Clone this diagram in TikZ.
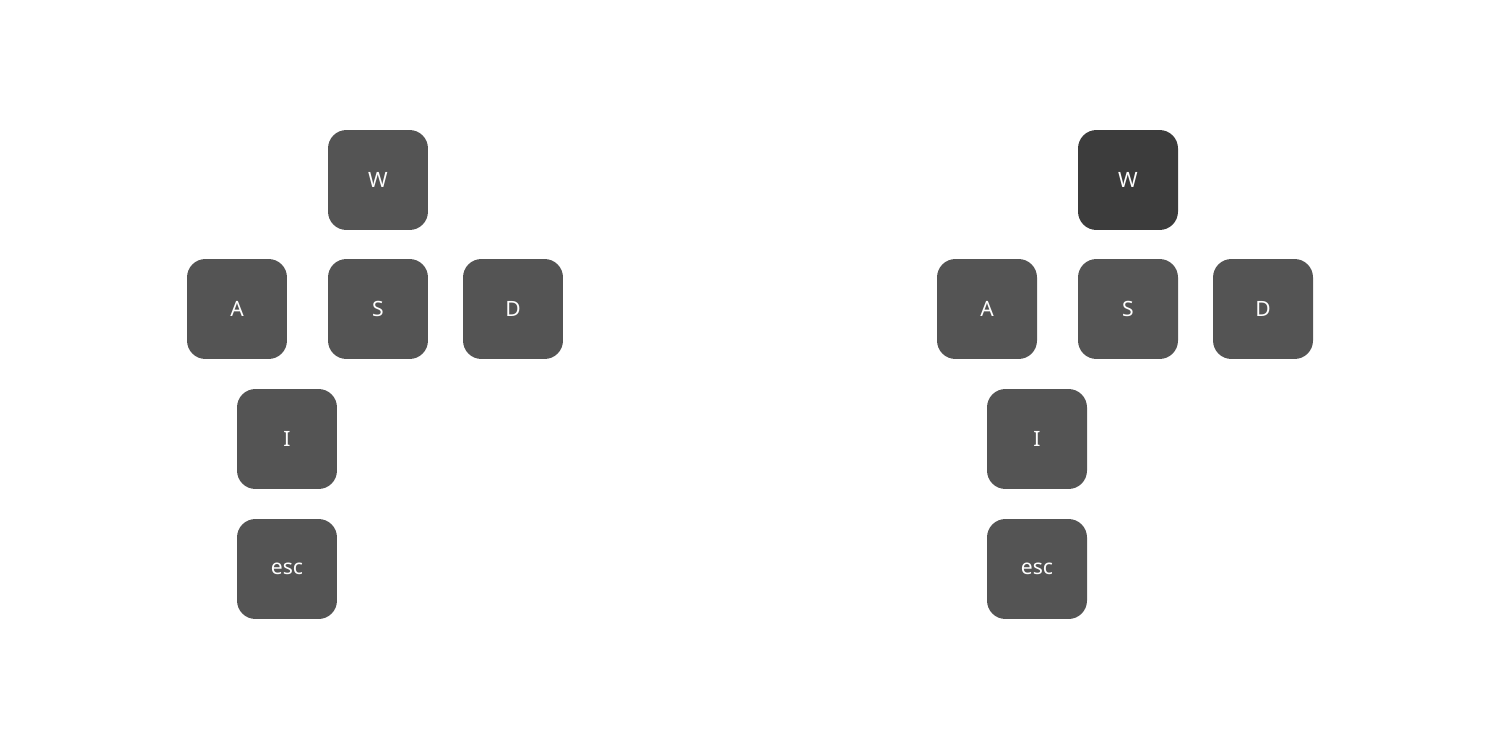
\documentclass[tikz,border=0pt]{standalone}
\usepackage{fontspec}
\setmainfont{Noto Sans}
\usepackage{xcolor}
\usepackage{tikz}
\usetikzlibrary{positioning}
\definecolor{KeyGrey}{HTML}{545454}
\definecolor{KeyDark}{HTML}{3C3C3C}
\begin{document}
\begin{tikzpicture}[x=0.02cm,y=-0.02cm,
    keycap/.style={fill=KeyGrey,text=white,rounded corners=10.5pt,
      minimum size=2cm,inner sep=0pt,font=\fontsize{12}{14}\selectfont},
    pressed/.style={keycap,fill=KeyDark}]
  \useasboundingbox (0,0) rectangle (1500,750);
  % left panel
  \node[keycap] (keyWl) at (378,180) {W};
  \node[keycap] (keyAl) at (237,309) {A};
  \node[keycap] (keySl) at (378,309) {S};
  \node[keycap] (keyDl) at (513,309) {D};
  \node[keycap] (keyIl) at (287,439) {I};
  \node[keycap] (keyEscl) at (287,569) {esc};
  % right panel, W held down
  \node[pressed] (keyWr) at (1128,180) {W};
  \node[keycap] (keyAr) at (987,309) {A};
  \node[keycap] (keySr) at (1128,309) {S};
  \node[keycap] (keyDr) at (1263,309) {D};
  \node[keycap] (keyIr) at (1037,439) {I};
  \node[keycap] (keyEscr) at (1037,569) {esc};
\end{tikzpicture}
\end{document}
